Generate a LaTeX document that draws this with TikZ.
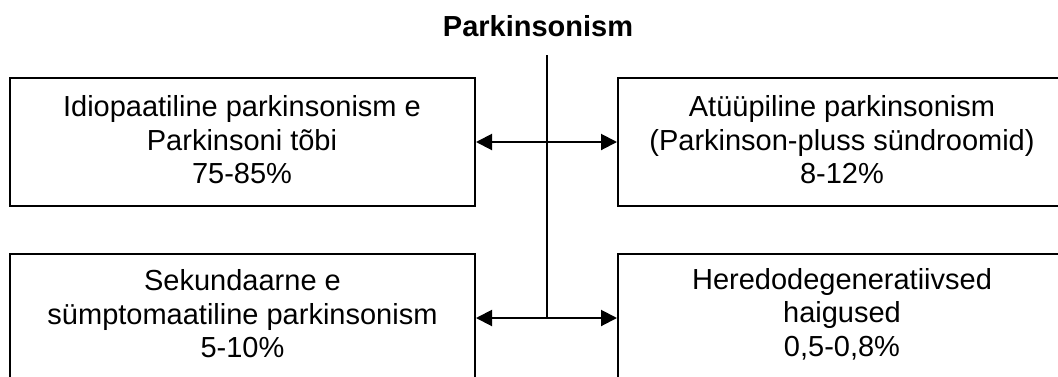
\documentclass[tikz,border=0pt]{standalone}
\usepackage{fontspec}
\setmainfont{Liberation Sans}
\usetikzlibrary{arrows.meta}
\begin{document}
\begin{tikzpicture}[x=1pt,y=-1pt,
  box/.style={draw=black,line width=2pt,minimum width=465pt,minimum height=128pt,inner sep=0pt},
  lbl/.style={align=center,inner sep=0pt,font=\fontsize{29}{33.5}\selectfont},
  conn/.style={line width=2pt},
  arr/.style={line width=2pt,{Triangle[length=16pt,width=16pt]}-{Triangle[length=16pt,width=16pt]}}]
\useasboundingbox (0,0) rectangle (1058,376);
\fill[white] (0,0) rectangle (1058,376);
\clip (0,0) rectangle (1058,376);
\node[anchor=base,inner sep=0pt,font=\fontsize{29}{35}\selectfont\bfseries] (title) at (538,36) {Parkinsonism};
\node[box] (tl) at (242.5,142) {};
\node[box] (tr) at (850.5,142) {};
\node[box] (bl) at (242.5,318) {};
\node[box] (br) at (850.5,318) {};
\node[lbl] (tlt) at (242,140) {Idiopaatiline parkinsonism e\\Parkinsoni tõbi\\75-85\%};
\node[lbl] (trt) at (842,140) {Atüüpiline parkinsonism\\(Parkinson-pluss sündroomid)\\8-12\%};
\node[lbl] (blt) at (242.5,314) {Sekundaarne e\\sümptomaatiline parkinsonism\\5-10\%};
\node[lbl] (brt) at (842,314) {Heredodegeneratiivsed\\haigused\\0,5-0,8\%};
\coordinate (vtop) at (547,55);
\coordinate (vmid) at (547,142);
\coordinate (vbot) at (547,318);
\draw[conn] (vtop) -- (vbot);
\draw[arr] (tl.east) -- (tr.west);
\draw[arr] (bl.east) -- (br.west);
\end{tikzpicture}
\end{document}
